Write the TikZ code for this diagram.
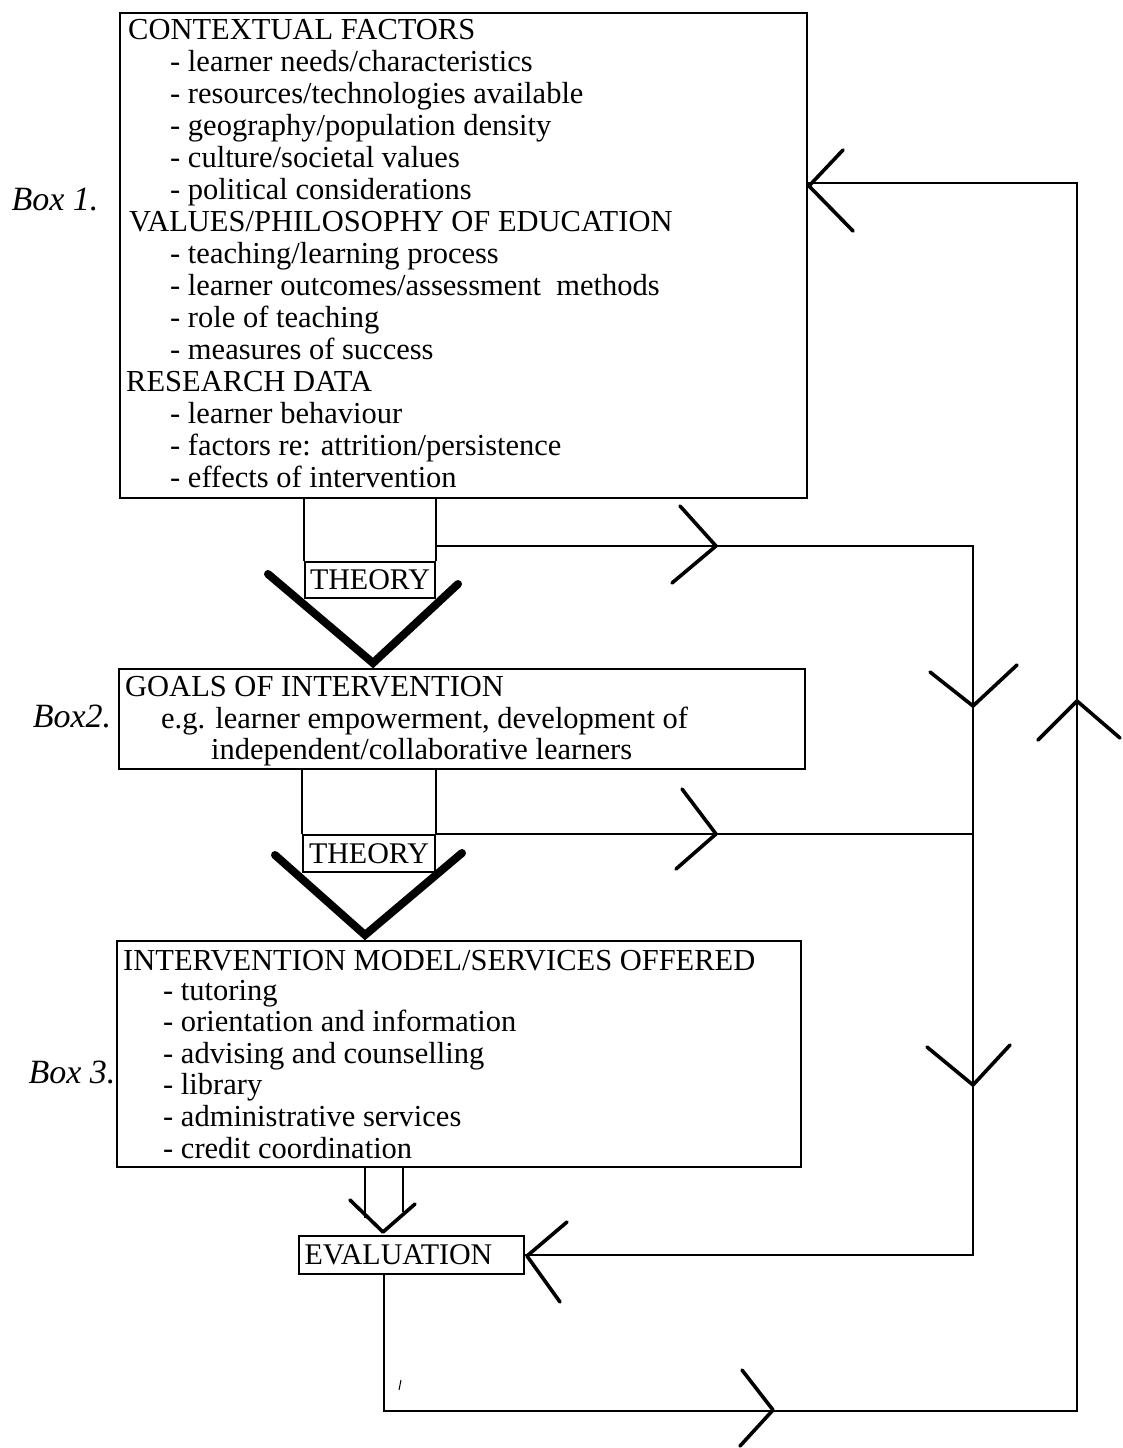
\documentclass[tikz,border=0pt]{standalone}
\usepackage{fontspec}
\setmainfont{Liberation Serif}
\usetikzlibrary{calc}
\begin{document}
\begin{tikzpicture}[x=1pt,y=-1pt,
  box/.style={draw,line width=1.8pt,minimum width=#1,inner sep=0pt,anchor=north west},
  txt/.style={anchor=base west,inner sep=0pt,font=\fontsize{30.5}{32}\selectfont},
  hand/.style={anchor=center,inner sep=0pt,font=\fontsize{34}{36}\selectfont\itshape},
  conn/.style={line width=1.8pt},
  chev/.style={line width=3.6pt,line cap=round,line join=round},
  bigv/.style={line width=8pt,line cap=round,line join=miter},
  lbl/.style={draw,line width=1.6pt,inner sep=0pt,font=\fontsize{30}{32}\selectfont}
]
\useasboundingbox (0,0) rectangle (1123,1448);

% ---------- boxes ----------
\node[box=687pt,minimum height=485pt] (b1) at (119,12) {};
\node[box=686pt,minimum height=100pt] (b2) at (118,668) {};
\node[box=684pt,minimum height=226pt] (b3) at (116,940) {};
\node[lbl,minimum width=130pt,minimum height=36pt] (th1) at (370,580) {THEORY};
\node[lbl,minimum width=132pt,minimum height=37pt] (th2) at (369,853.5) {THEORY};
\node[lbl,minimum width=225pt,minimum height=38pt] (ev) at (411.5,1255) {EVALUATION\hspace*{26pt}};

% ---------- box 1 text ----------
\node[txt] (l1)  at (128,39)  {CONTEXTUAL FACTORS};
\node[txt] (l2)  at (170,71)  {- learner needs/characteristics};
\node[txt] (l3)  at (170,103) {- resources/technologies available};
\node[txt] (l4)  at (170,135) {- geography/population density};
\node[txt] (l5)  at (170,167) {- culture/societal values};
\node[txt] (l6)  at (170,199) {- political considerations};
\node[txt] (l7)  at (129,231) {VALUES/PHILOSOPHY OF EDUCATION};
\node[txt] (l8)  at (170,263) {- teaching/learning process};
\node[txt] (l9)  at (170,295) {- learner outcomes/assessment\ \ methods};
\node[txt] (l10) at (170,327) {- role of teaching};
\node[txt] (l11) at (170,359) {- measures of success};
\node[txt] (l12) at (126,391) {RESEARCH DATA};
\node[txt] (l13) at (170,423) {- learner behaviour};
\node[txt] (l14) at (170,455) {- factors re: attrition/persistence};
\node[txt] (l15) at (170,487) {- effects of intervention};

% ---------- box 2 text ----------
\node[txt] (g1) at (125,696) {GOALS OF INTERVENTION};
\node[txt] (g2) at (161,728) {e.g. learner empowerment, development of};
\node[txt] (g3) at (211,759) {independent/collaborative learners};

% ---------- box 3 text ----------
\node[txt] (s1) at (123,970)  {INTERVENTION MODEL/SERVICES OFFERED};
\node[txt] (s2) at (163,1000) {- tutoring};
\node[txt] (s3) at (163,1031) {- orientation and information};
\node[txt] (s4) at (163,1063) {- advising and counselling};
\node[txt] (s5) at (163,1094) {- library};
\node[txt] (s6) at (163,1126) {- administrative services};
\node[txt] (s7) at (163,1158) {- credit coordination};

% ---------- handwritten labels ----------
\node[hand] (h1) at (55,200)  {Box 1.};
\node[hand] (h2) at (72,716)  {Box2.};
\node[hand] (h3) at (72,1072) {Box 3.};

% ---------- coordinates ----------
\coordinate (r1) at (973,546);
\coordinate (rr) at (1077,1411);
\coordinate (e1) at (384,1411);

% ---------- connectors box1 -> theory ----------
\draw[conn] (th1.north west |- b1.south) -- (th1.north west);
\draw[conn] (th1.north east |- b1.south) -- (th1.north east);
\draw[conn] (th1.north east |- r1) -- (r1) -- (r1 |- ev.east) -- (ev.east);

% ---------- connectors box2 -> theory ----------
\draw[conn] (th2.north west |- b2.south) -- (th2.north west);
\draw[conn] (th2.north east |- b2.south) -- (th2.north east);
\draw[conn] (th2.north east) -- (th2.north east -| r1);

% ---------- box3 -> evaluation ----------
\coordinate (p1) at (365,1166);
\coordinate (p2) at (403,1166);
\draw[conn] (p1) -- ++(0,52);
\draw[conn] (p2) -- ++(0,46);

% ---------- feedback loop ----------
\draw[conn] (ev.south -| e1) -- (e1) -- (rr) -- (rr |- 0,183) -- (b1.east |- 0,183);

% ---------- big V arrows ----------
\draw[bigv] (268,574) -- (373,663) -- (458,584);
\draw[bigv] (275,855) -- (365,935) -- (462,853);

% ---------- chevrons ----------
\draw[chev] (350,1200) -- (383,1232) -- (415,1204);
\draw[chev] (567,1222) -- (527,1256) -- (560,1302);
\draw[chev] (843,150) -- (809,186) -- (853,231);
\draw[chev] (680,506) -- (716,546) -- (672,583);
\draw[chev] (682,789) -- (716,834) -- (676,869);
\draw[chev] (930,672) -- (973,706) -- (1017,665);
\draw[chev] (927,1047) -- (973,1085) -- (1010,1045);
\draw[chev] (1038,740) -- (1077,701) -- (1120,738);
\draw[chev] (742,1370) -- (773,1410) -- (740,1446);
\draw[line width=1pt] (399,1390) -- (401,1380);
\end{tikzpicture}
\end{document}
